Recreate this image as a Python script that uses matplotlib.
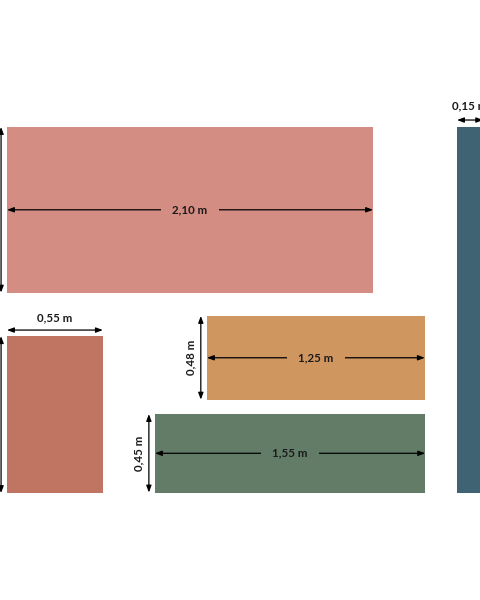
import matplotlib
matplotlib.use("Agg")
import matplotlib.pyplot as plt
from matplotlib.patches import Rectangle

names = ["pink", "terracotta", "orange", "green", "blue"]
widths = [2.10, 0.55, 1.25, 1.55, 0.15]
heights = [0.95, 0.90, 0.48, 0.45, 2.10]
x0s = [0.0, 0.0, 1.147, 0.849, 2.582]
y0s = [0.0, 1.20, 1.084, 1.647, 0.0]
colors = ["#d48d82", "#c07462", "#d09660", "#627c67", "#3f6373"]

S = 174.3
fig = plt.figure(figsize=(4.8, 6), dpi=100)
ax = fig.add_axes([0, 0, 1, 1])
ax.set_xlim(-7 / S, 473 / S)
ax.set_ylim(473 / S, -127 / S)
ax.axis("off")

def fmt(v):
    return f"{v:.2f}".replace(".", ",") + " m"

font = dict(family=["Lato", "DejaVu Sans"], fontweight="bold", fontsize=8.3, color="#1a1a1a")

def arrow(p1, p2):
    ax.annotate("", xy=p2, xytext=p1, annotation_clip=False,
                arrowprops=dict(arrowstyle="<|-|>,head_length=0.4,head_width=0.15",
                                color="black", lw=0.9, shrinkA=0, shrinkB=0))

for i, n in enumerate(names):
    x, y, w, h, c = x0s[i], y0s[i], widths[i], heights[i], colors[i]
    ax.add_patch(Rectangle((x, y), w, h, facecolor=c, edgecolor="none"))

x, y, w, h = x0s[0], y0s[0], widths[0], heights[0]
arrow((x, y + h * 0.5), (x + w, y + h * 0.5))
ax.text(x + w / 2, y + h * 0.5, fmt(w), ha="center", va="center",
        bbox=dict(facecolor=colors[0], edgecolor="none", pad=8), **font)
arrow((-0.034, y), (-0.034, y + h))

x, y, w, h = x0s[1], y0s[1], widths[1], heights[1]
arrow((x, y - 0.035), (x + w, y - 0.035))
ax.text(x + w / 2, y - 0.105, fmt(w), ha="center", va="center", **font)
arrow((-0.034, y), (-0.034, y + h))

for i in (2, 3):
    x, y, w, h = x0s[i], y0s[i], widths[i], heights[i]
    arrow((x, y + h / 2), (x + w, y + h / 2))
    ax.text(x + w / 2, y + h / 2, fmt(w), ha="center", va="center",
            bbox=dict(facecolor=colors[i], edgecolor="none", pad=8), **font)
    arrow((x - 0.035, y), (x - 0.035, y + h))
    ax.text(x - 0.092, y + h / 2, fmt(h), ha="center", va="center", rotation=90, **font)

x, y, w, h = x0s[4], y0s[4], widths[4], heights[4]
arrow((x, y - 0.04), (x + w, y - 0.04))
ax.text(x + w / 2, y - 0.12, fmt(w), ha="center", va="center", **font)

fig.savefig("out.png", dpi=100, facecolor="white")
